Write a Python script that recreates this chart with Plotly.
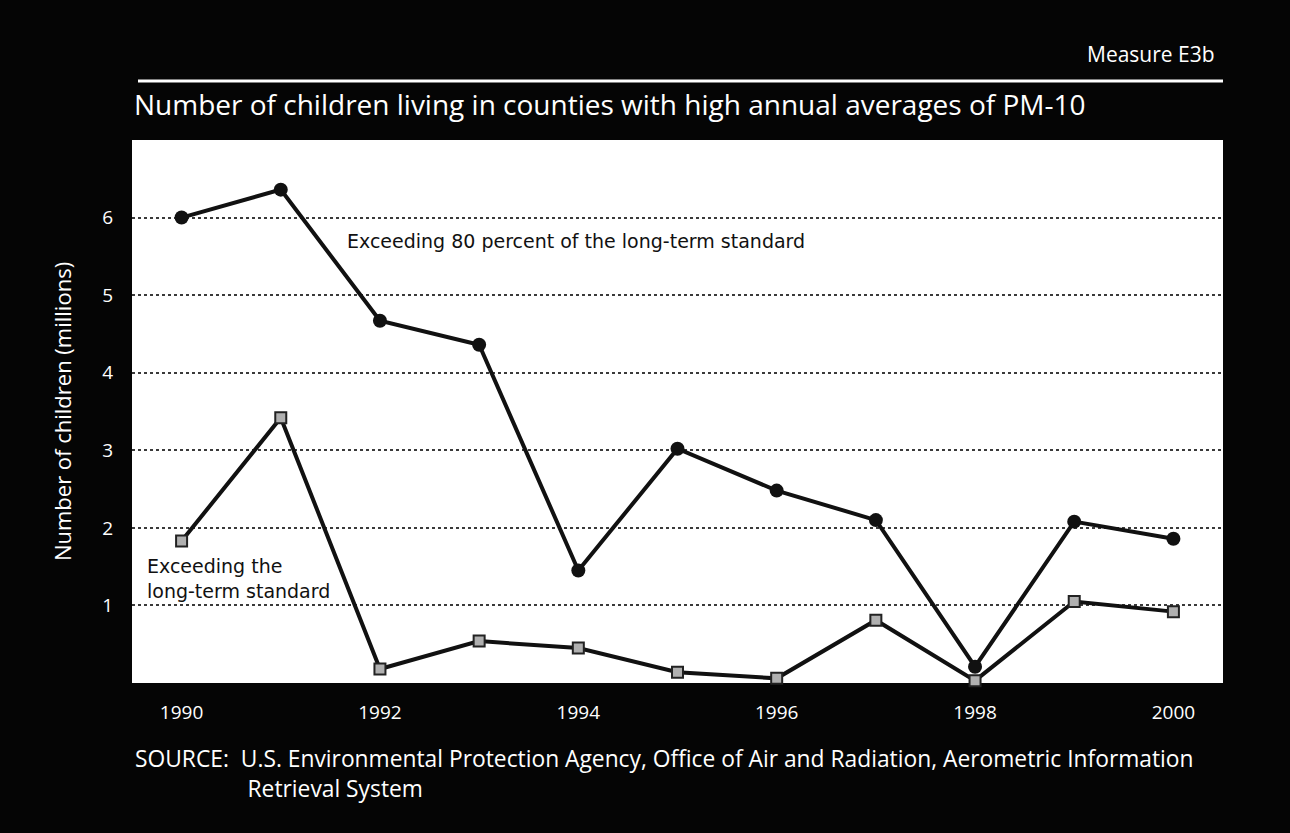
import plotly.graph_objects as go

# data
years = [1990, 1991, 1992, 1993, 1994, 1995, 1996, 1997, 1998, 1999, 2000]
exceed_80pct = [6.0, 6.36, 4.67, 4.36, 1.45, 3.02, 2.48, 2.10, 0.21, 2.08, 1.86]
exceed_standard = [1.83, 3.42, 0.18, 0.54, 0.45, 0.14, 0.06, 0.81, 0.03, 1.05, 0.92]
x_ticks = [1990, 1992, 1994, 1996, 1998, 2000]
y_ticks = [1, 2, 3, 4, 5, 6]

FONT = "Open Sans"
INNER_FONT = "DejaVu Sans"
BG = "#050505"
PW, PH = 1091, 543  # plot area in px, used to place paper-referenced items

fig = go.Figure()

fig.add_trace(go.Scatter(
    x=years, y=exceed_standard, mode="lines+markers",
    line=dict(color="#111111", width=4),
    marker=dict(symbol="square", size=11, color="#b0b0b0",
                line=dict(color="#222222", width=2)),
    showlegend=False, cliponaxis=False,
))
fig.add_trace(go.Scatter(
    x=years, y=exceed_80pct, mode="lines+markers",
    line=dict(color="#111111", width=4),
    marker=dict(symbol="circle", size=14, color="#111111"),
    showlegend=False, cliponaxis=False,
))

fig.update_layout(
    width=1290, height=833,
    paper_bgcolor=BG, plot_bgcolor="white",
    margin=dict(l=132, r=67, t=140, b=150),
    font=dict(family=FONT, color="white", size=18),
)
fig.update_xaxes(range=[1989.5, 2000.5], tickvals=x_ticks, showgrid=False,
                 zeroline=False, showline=False, ticks="", ticklabelstandoff=16,
                 tickfont=dict(size=19, color="white"))
fig.update_yaxes(range=[0, 7], tickvals=y_ticks, showgrid=True,
                 gridcolor="#3a3a3a", griddash="dot", gridwidth=1.5,
                 zeroline=False, showline=False, ticks="", ticklabelstandoff=18,
                 tickfont=dict(size=19, color="white"),
                 title=dict(text="Number of children (millions)", standoff=24,
                            font=dict(size=22, color="white")))

# header
fig.add_annotation(text="Measure E3b", xref="paper", yref="paper",
                   x=1.0 - 6 / PW, y=1 + 86 / PH, xanchor="right", yanchor="middle",
                   showarrow=False, font=dict(size=21, color="white", family=FONT))
fig.add_shape(type="line", xref="paper", yref="paper",
              x0=6 / PW, x1=1.0, y0=1 + 59 / PH, y1=1 + 59 / PH,
              line=dict(color="white", width=3))
fig.add_annotation(text="Number of children living in counties with high annual averages of PM-10",
                   xref="paper", yref="paper", x=0, y=1 + 36 / PH,
                   xanchor="left", yanchor="middle", showarrow=False,
                   font=dict(size=28, color="white", family=FONT))

# series labels inside the plot
fig.add_annotation(text="Exceeding 80 percent of the long-term standard",
                   x=1991.65, y=5.7, xanchor="left", yanchor="middle", showarrow=False,
                   font=dict(size=19, color="#111111", family=INNER_FONT))
fig.add_annotation(text="Exceeding the<br>long-term standard",
                   x=1989.63, y=1.35, xanchor="left", yanchor="middle", align="left",
                   showarrow=False,
                   font=dict(size=19, color="#111111", family=INNER_FONT))

# source note
indent = "&nbsp;" * 19
fig.add_annotation(text="SOURCE:  U.S. Environmental Protection Agency, Office of Air and Radiation, "
                        "Aerometric Information<br>" + indent + "Retrieval System",
                   xref="paper", yref="paper", x=1 / PW, y=-90 / PH,
                   xanchor="left", yanchor="middle", align="left", showarrow=False,
                   font=dict(size=22.8, color="white", family=FONT))

fig.write_html("out.html", config={"displayModeBar": False},
               post_script="document.body.style.margin='0';"
                           "document.body.style.background='%s';" % BG)
